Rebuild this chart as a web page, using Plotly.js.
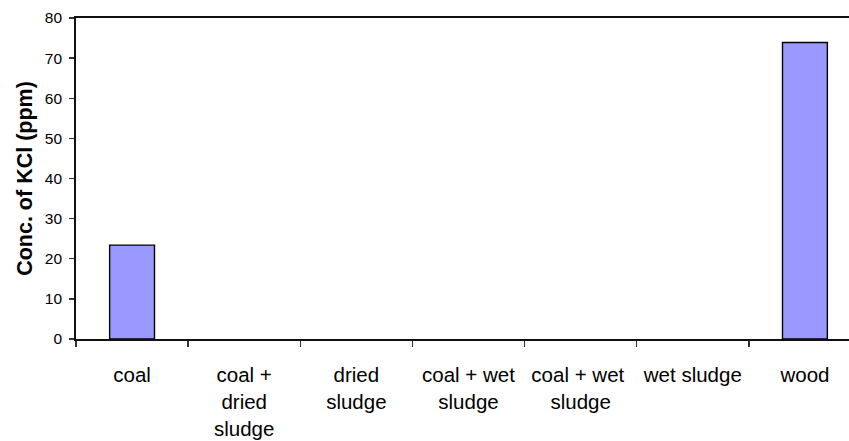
<!DOCTYPE html>
<html>
<head>
<meta charset="utf-8">
<script src="https://cdn.plot.ly/plotly-3.0.1.min.js"></script>
<style>
html, body { margin: 0; padding: 0; overflow: hidden; background: #fff; }
#chart { width: 870px; height: 441px; }
</style>
</head>
<body>
<div id="chart"></div>
<script>
const categories = ["coal", "coal +<br>dried<br>sludge", "dried<br>sludge", "coal + wet<br>sludge", "coal + wet <br>sludge", "wet sludge", "wood"];
const kclValues = [23.4, 0, 0, 0, 0, 0, 73.9];
const yTickValues = [0, 10, 20, 30, 40, 50, 60, 70, 80];

const trace = {
  type: "bar",
  x: categories,
  y: kclValues,
  marker: {
    color: "#9999FF",
    line: { color: "#000000", width: kclValues.map(v => (v > 0 ? 1.4 : 0)) }
  },
  hoverinfo: "none"
};

const layout = {
  width: 870,
  height: 441,
  margin: { l: 76, r: 9, t: 18, b: 102 },
  paper_bgcolor: "#ffffff",
  plot_bgcolor: "#ffffff",
  showlegend: false,
  bargap: 0.6,
  font: { family: "Liberation Sans, Arial, sans-serif", color: "#000000", size: 15 },
  xaxis: {
    type: "category",
    tickson: "boundaries",
    ticks: "outside",
    ticklen: 6,
    tickwidth: 1.3,
    tickcolor: "#333",
    ticklabelstandoff: 17,
    showline: true,
    linecolor: "#111",
    linewidth: 1.8,
    mirror: true,
    showgrid: false,
    zeroline: false,
    tickfont: { size: 20.5 },
    tickangle: 0
  },
  yaxis: {
    range: [0, 80],
    tickvals: yTickValues,
    ticks: "outside",
    ticklen: 5,
    tickwidth: 1.3,
    tickcolor: "#333",
    ticklabelstandoff: 4,
    showline: true,
    linecolor: "#111",
    linewidth: 1.8,
    mirror: true,
    showgrid: false,
    zeroline: false,
    tickfont: { size: 15.5 },
    title: { text: "<b>Conc. of KCl (ppm)</b>", font: { size: 21.5 }, standoff: 6 }
  }
};

Plotly.newPlot("chart", [trace], layout, { staticPlot: true });
</script>
</body>
</html>
